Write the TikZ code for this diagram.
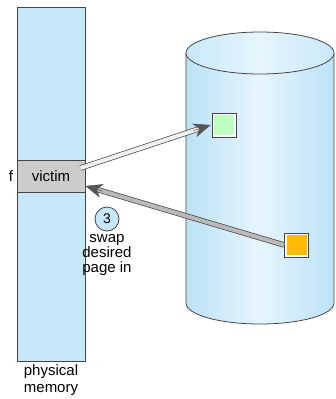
\documentclass[tikz,border=0pt]{standalone}
\usepackage{fontspec}
\setmainfont{Liberation Sans}
\usetikzlibrary{arrows.meta,calc,positioning}
\definecolor{memblue}{RGB}{198,230,250}
\definecolor{cylblue}{RGB}{188,226,247}
\definecolor{cyllight}{RGB}{230,245,253}
\definecolor{edge}{RGB}{70,70,70}
\definecolor{victimgray}{RGB}{204,204,204}
\definecolor{pagegreen}{RGB}{192,255,192}
\definecolor{pageorange}{RGB}{255,187,0}
\definecolor{headgray}{RGB}{85,85,85}

\begin{document}
\begin{tikzpicture}[x=1pt,y=-1pt,
    font=\fontsize{15}{15}\selectfont,
    frame/.style={draw=edge, line width=0.8pt, fill=memblue, minimum width=68pt, inner sep=0pt},
    page/.style={draw=edge, line width=0.8pt, fill=white, minimum size=24pt, inner sep=0pt,
      path picture={\fill[#1] ([shift={(2pt,2pt)}]path picture bounding box.south west) rectangle ([shift={(-2pt,-2pt)}]path picture bounding box.north east);}},
    shaft/.style={draw=edge, line width=0.7pt, double=#1, double distance=4pt},
    tip/.style={-{Stealth[length=17pt,width=14pt,inset=5pt]}, draw=headgray, fill=headgray, line width=0.5pt}]
    \useasboundingbox (0,0) rectangle (336,399);

    \node[frame, minimum height=354pt] (mem) at (51,184) {};
    \node[frame, fill=victimgray, minimum height=32pt] (victim) at (51,176) {victim};
    \node[left=0pt of victim] (flabel) {f};
    \node[below=0pt of mem, align=center, font=\fontsize{15}{17}\selectfont] (memlabel) {physical\\memory};

    % disk
    \shade[left color=cylblue, right color=cylblue, middle color=cyllight] (186,53) -- (186,303) arc[start angle=180, end angle=360, x radius=74pt, y radius=21pt] -- (334,53) -- cycle;
    \draw[draw=edge, line width=0.8pt] (186,53) -- (186,303) arc[start angle=180, end angle=360, x radius=74pt, y radius=21pt] -- (334,53);
    \shadedraw[draw=edge, line width=0.8pt, left color=cylblue!80, right color=cylblue!80, middle color=cyllight] (260,53) ellipse [x radius=74pt, y radius=21pt];

    \node[page=pagegreen] (outpage) at (224,125) {};
    \node[page=pageorange] (inpage) at (296.5,245) {};

    \coordinate (outstart) at ([xshift=-5pt,yshift=8pt]victim.east);
    \coordinate (outend) at ([xshift=-1pt]outpage.west);
    \coordinate (instop) at ([yshift=-10pt]victim.east);

    \draw[shaft=gray!12] (outstart) -- ($(outend)!12pt!(outstart)$);
    \draw[tip] ($(outend)!18pt!(outstart)$) -- (outend);
    \draw[shaft=gray!55] (inpage.west) -- ($(instop)!12pt!(inpage.west)$);
    \draw[tip] ($(instop)!18pt!(inpage.west)$) -- (instop);

    \node[circle, draw=edge, fill=memblue, line width=0.8pt, minimum size=24pt, inner sep=0pt, font=\fontsize{14}{14}\selectfont] (stepnum) at (107,219) {3};
    \node[below=-1pt of stepnum, align=center] (swaptext) {swap\\desired\\page in};
\end{tikzpicture}
\end{document}
